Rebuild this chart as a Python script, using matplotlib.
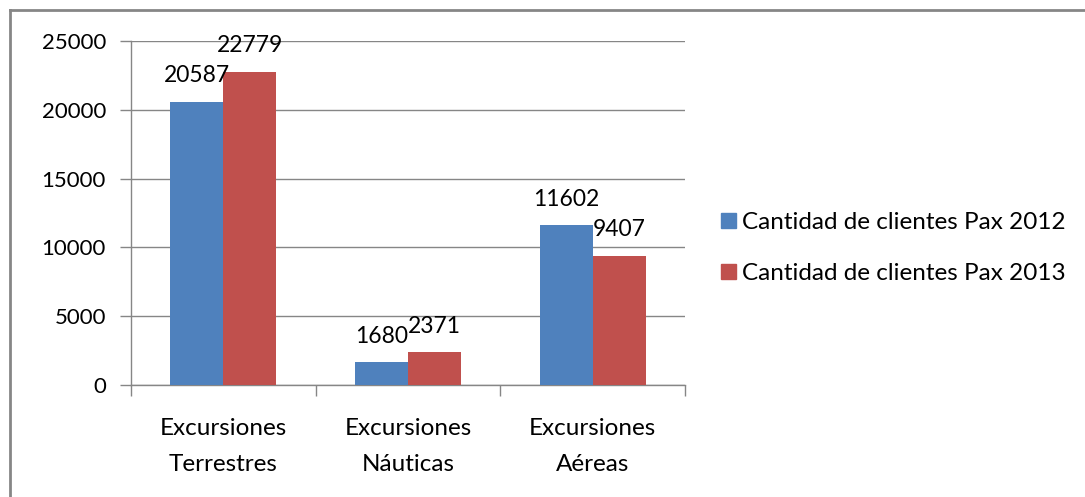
import matplotlib
matplotlib.use("Agg")
import matplotlib.pyplot as plt
import numpy as np
from matplotlib.lines import Line2D
from matplotlib.patches import Patch

categories = ["Excursiones\nTerrestres", "Excursiones\nNáuticas", "Excursiones\nAéreas"]
series_names = ["Cantidad de clientes Pax 2012", "Cantidad de clientes Pax 2013"]
values_2012 = [20587, 1680, 11602]
values_2013 = [22779, 2371, 9407]
yticks = [0, 5000, 10000, 15000, 20000, 25000]

colors = ["#4F81BD", "#C0504D"]
grid_c = "#868686"
plt.rcParams['font.family'] = ['Lato', 'DejaVu Sans']
fs_num = 16
fs_lab = 16.5
fs_txt = 17.5

W, H = 1085, 497
fig = plt.figure(figsize=(W / 100, H / 100), dpi=100)
ax = fig.add_axes([131 / W, 1 - 385 / H, (685 - 131) / W, (385 - 41) / H])

x = np.arange(len(categories))
bw = 0.287
b1 = ax.bar(x - bw / 2, values_2012, bw, color=colors[0], label=series_names[0], zorder=3)
b2 = ax.bar(x + bw / 2, values_2013, bw, color=colors[1], label=series_names[1], zorder=3)
for bars, vals in ((b1, values_2012), (b2, values_2013)):
    for r, v in zip(bars, vals):
        ax.annotate(str(v), (r.get_x() + r.get_width() / 2, r.get_height()),
                    xytext=(0, 11), textcoords="offset points", ha="center", va="bottom",
                    fontsize=fs_lab, zorder=4, annotation_clip=False)

ax.set_xlim(-0.5, len(categories) - 0.5)
ax.set_ylim(0, 25000)
ax.set_yticks(yticks)
ax.set_yticklabels([str(t) for t in yticks], fontsize=fs_num)
ax.yaxis.grid(True, color=grid_c, linewidth=1, zorder=0)
ax.tick_params(axis='y', length=8, color=grid_c, width=1, pad=10)

ax.set_xticks(x)
ax.set_xticklabels(categories, fontsize=fs_txt, linespacing=1.85)
ax.tick_params(axis='x', length=0, pad=24)
ax.set_xticks(np.arange(len(categories) + 1) - 0.5, minor=True)
ax.tick_params(axis='x', which='minor', length=8, color=grid_c, width=1)

for s in ['top', 'right']:
    ax.spines[s].set_visible(False)
for s in ['left', 'bottom']:
    ax.spines[s].set_color(grid_c)
    ax.spines[s].set_linewidth(1)

handles = [Patch(color=colors[0]), Patch(color=colors[1])]
fig.legend(handles, series_names, loc='center left', bbox_to_anchor=(709 / W, 1 - 248 / H),
           frameon=False, fontsize=fs_txt, handlelength=0.6, handleheight=0.6,
           handletextpad=0.25, labelspacing=1.25, borderpad=0)

fig.add_artist(Line2D([9.5 / W, 9.5 / W], [0, 1 - 10 / H], color=grid_c, linewidth=2))
fig.add_artist(Line2D([9.5 / W, 1], [1 - 10 / H, 1 - 10 / H], color=grid_c, linewidth=2))

fig.savefig("out.png", dpi=100)
